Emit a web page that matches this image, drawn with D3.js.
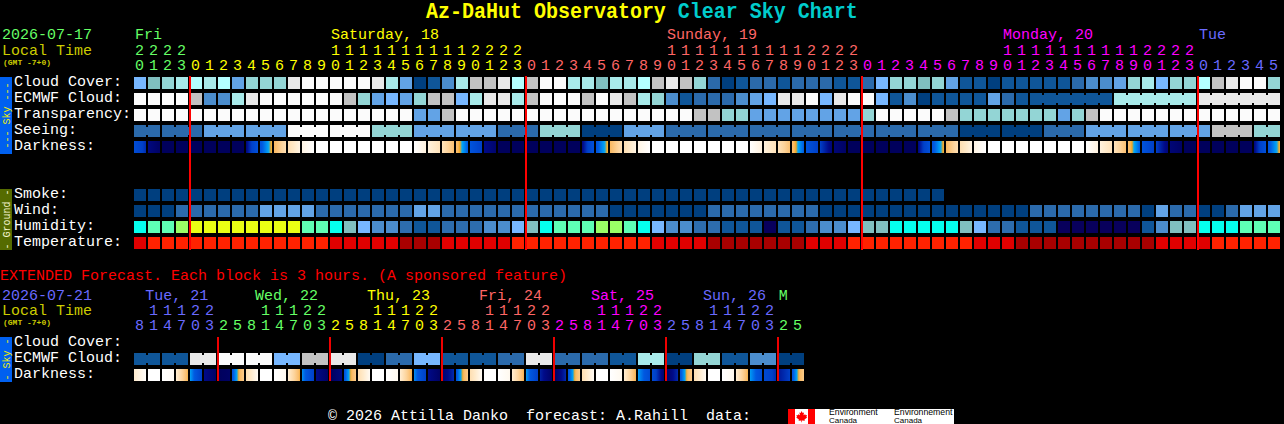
<!DOCTYPE html>
<html><head><meta charset="utf-8">
<script src="https://cdn.jsdelivr.net/npm/d3@7/dist/d3.min.js"></script>
<style>html,body{margin:0;padding:0;background:#000;overflow:hidden}svg{display:block}text{font-family:"Liberation Mono",monospace;white-space:pre}</style>
</head><body><svg id="c" width="1284" height="424"></svg>
<script>
// ---- values (sky quality level per hour) ----
const cloudCover=[5,6,7,8,9,8,9,4,7,7,7,11,12,12,12,12,12,11,8,4,0,1,3,8,10,10,11,9,10,12,12,8,8,6,8,8,9,10,11,10,7,2,0,1,2,2,1,2,2,2,1,1,2,5,7,7,6,7,4,1,1,0,1,1,1,1,1,2,3,3,4,7,8,5,7,7,9,10,11,12,12,7];
const ecmwfCloud=[12,12,12,12,10,3,3,8,11,12,12,12,12,12,12,10,7,4,5,4,7,10,10,5,8,11,11,8,10,12,12,12,10,12,11,10,8,7,3,1,2,2,2,3,4,5,11,11,12,5,11,12,12,5,1,3,0,1,1,1,1,4,2,1,1,1,1,1,1,1,8,8,8,8,8,8,11,11,11,11,11,11];
const ecmwfBlocks=[0,1,2,3,4,5,6,7,8,9,10,11,12,13,14,15,16,17,18,19,20,21,22,23,24,25,26,27,28,29,30,31,32,33,34,35,36,37,38,39,40,41,42,43,44,45,46,47,48,49,50,51,52,53,54,55,56,57,58,59,60,61,62,63,64,70,76];
const transparency=[12,12,12,12,12,12,12,12,12,12,12,12,12,12,12,12,12,12,12,12,4,4,10,12,12,12,12,12,12,12,12,12,12,12,12,12,12,12,12,12,10,10,7,7,4,4,4,4,4,4,4,4,7,12,12,12,12,12,10,7,7,7,7,7,7,7,4,7,10,12,12,12,12,12,12,12,12,12,12,12,12,12];
const seeing=[2,2,2,2,2,4,4,4,4,4,4,12,12,12,12,12,12,7,7,7,4,4,4,4,4,4,2,2,2,7,7,7,0,0,0,4,4,4,2,2,2,2,2,2,2,2,2,2,2,2,2,2,2,2,2,2,2,2,2,0,0,0,0,0,0,2,2,2,4,4,4,4,4,4,4,4,4,10,10,10,7,7];
const seeingBlocks=[0,2,5,8,11,14,17,20,23,26,29,32,35,38,41,44,47,50,53,56,59,62,65,68,71,74,77,80];
const darkStart=[4.5,5.6,6,6,6,6,6,6,5.6,4.2,3,1.5,.5,0,0,0,0,0,0,0,0,.6,1.3,2.8,4.2,5.5,6,6,6,6,6,6,5.6,4.2,3,1.5,.5,0,0,0,0,0,0,0,0,.6,1.3,2.8,4.2,5,5.7,6,6,6,6,6,5.6,4.2,3,1.5,.5,0,0,0,0,0,0,0,0,.6,1.3,2.8,4.2,5,5.7,6,6,6,6,6,5.6,4.2];
const darkEnd=[5.2,5.9,6,6,6,6,6,6,4.3,3.1,1.5,.5,0,0,0,0,0,0,0,0,.6,1.3,2.7,4,5,5.8,6,6,6,6,6,6,4.3,3.1,1.5,.5,0,0,0,0,0,0,0,0,.6,1.3,2.7,4,5,5.7,5.9,6,6,6,6,6,4.3,3.1,1.5,.5,0,0,0,0,0,0,0,0,.6,1.3,2.7,4,5,5.7,5.9,6,6,6,6,6,4.3,3.1];
const smoke=[0,0,0,0,0,0,0,0,0,0,0,0,0,0,0,0,0,0,0,0,0,0,0,0,0,0,0,0,0,0,0,0,0,0,0,0,0,0,0,0,0,0,0,0,0,0,0,0,0,0,0,0,0,0,0,0,0,0];
const wind=[0,0,0,2,2,2,2,2,2,4,4,4,4,2,2,2,2,2,2,2,4,4,2,2,2,2,2,2,2,2,2,2,2,2,0,0,0,0,0,0,0,2,2,2,2,2,2,2,2,0,0,0,0,0,0,0,0,0,0,0,0,0,0,0,2,2,2,2,2,2,2,2,0,4,2,2,0,0,2,4,4,4];
const humidity=[6,7,7,8,9,9,9,9,9,9,9,9,7,7,6,5,4,3,3,2,1,1,2,2,2,3,3,4,5,6,7,7,7,8,8,7,6,4,3,3,2,2,1,1,1,0,1,1,2,3,3,4,5,5,6,6,6,6,6,5,4,2,2,1,1,1,0,0,0,0,0,0,1,3,5,5,6,6,6,7,7,7];
const temperature=[1,2,2,2,2,2,2,2,2,2,2,2,2,2,1,1,1,1,1,0,0,0,1,1,1,1,1,2,2,2,2,2,2,2,2,2,2,1,1,1,1,0,0,0,0,0,0,0,1,1,1,2,2,2,2,2,2,2,2,2,1,1,1,0,0,0,0,0,0,0,0,0,0,1,1,1,1,2,2,2,2,2];
const hours=[20,21,22,23,0,1,2,3,4,5,6,7,8,9,10,11,12,13,14,15,16,17,18,19,20,21,22,23,0,1,2,3,4,5,6,7,8,9,10,11,12,13,14,15,16,17,18,19,20,21,22,23,0,1,2,3,4,5,6,7,8,9,10,11,12,13,14,15,16,17,18,19,20,21,22,23,0,1,2,3,4,5];
const hourDay=[0,0,0,0,1,1,1,1,1,1,1,1,1,1,1,1,1,1,1,1,1,1,1,1,1,1,1,1,2,2,2,2,2,2,2,2,2,2,2,2,2,2,2,2,2,2,2,2,2,2,2,2,3,3,3,3,3,3,3,3,3,3,3,3,3,3,3,3,3,3,3,3,3,3,3,3,4,4,4,4,4,4];
const dayNames=["Fri","Saturday, 18","Sunday, 19","Monday, 20","Tue"];
const dayLabelCell=[0,14,38,62,76];
// ---- extended forecast ----
const extEcmwf=[1,1,11,12,12,5,10,11,0,2,5,1,1,2,11,2,2,1,8,0,7,1,3,0];
const extDarkStart=[.9,0,0,.8,3.45,5.5,6,4.2,1.5,0,0,.8,3.6,5.5,6,4.2,1.5,0,0,.8,3.6,5.5,5.8,4.2,1.5,0,0,.8,3.5,5.3,6,4.2,1.5,0,0,.8,3.5,4.6,5.9,4.2,1.5,0,0,.8,3.5,4.6,5.4,4.2];
const extDarkEnd=[.1,0,.2,3.1,5,5.9,5.9,2.3,.2,0,.3,3.1,5,5.9,5.6,2.3,.2,0,.3,3.1,5,5.9,5.2,2.3,.2,0,.3,3.1,5,5.9,5.2,2.3,.2,0,.3,3.1,4.5,5.8,5.2,2.3,.2,0,.3,3.1,4.5,5.2,5,2.3];
const extHours=[8,11,14,17,20,23,2,5,8,11,14,17,20,23,2,5,8,11,14,17,20,23,2,5,8,11,14,17,20,23,2,5,8,11,14,17,20,23,2,5,8,11,14,17,20,23,2,5];
const extHourDay=[0,0,0,0,0,0,1,1,1,1,1,1,1,1,2,2,2,2,2,2,2,2,3,3,3,3,3,3,3,3,4,4,4,4,4,4,4,4,5,5,5,5,5,5,5,5,6,6];
const extDayNames=["Tue, 21","Wed, 22","Thu, 23","Fri, 24","Sat, 25","Sun, 26","M"];
const extDayLabelCell=[0.8,8.65,16.65,24.65,32.65,40.65,46.05];
const midnightCells=[4,28,52,76];
const extMidnightCells=[6,14,22,30,38,46];

// ---- scales ----
const skyPalette=["#003f7f","#0f5699","#2b6aab","#4b8dcd","#62a3e6","#77b7ff","#80bfbf","#93d5d5","#a8eaea","#b4ffff","#c2c2c2","#e9e9e9","#fbfbfb"];
const humPalette=["#08005c","#0f5699","#2d6dae","#4b8dcd","#77b7ff","#80bfbf","#05ffee","#5effb5","#9aff66","#eaff14"];
const tempPalette=["#a80000","#e00000","#ff2200"];
const sky=d3.scaleOrdinal(d3.range(13),skyPalette);
const hum=d3.scaleOrdinal(d3.range(10),humPalette);
const tmp=d3.scaleOrdinal(d3.range(3),tempPalette);
const dark=d3.scaleLinear()
 .domain([0,1,2,3,3.2,3.4,4,5,5.5,6])
 .range(["#ffffff","#ffe9c8","#fdd49c","#f9b860","#f0a820","#00a8f8","#0058e0","#0040c8","#000a88","#00005c"]);
const x=d3.scaleLinear().domain([0,82]).range([134,1282]);
const rowY=d3.scaleLinear().domain([0,1]).range([77,93]);
const CW=12,CH=12,STEP=14;
const GMT="(GMT -7+0)";
const dayCol=["#66ff66","#ffff00","#ff6666","#ff00ff","#6a6aff"];
const extDayCol=["#6a6aff","#66ff66","#ffff00","#ff6666","#ff00ff","#6a6aff","#66ff66"];

const svg=d3.select("#c");
svg.append("rect").attr("width",1284).attr("height",424).attr("fill","#000");
const defs=svg.append("defs");
const g=svg.append("g");

function txt(s,px,py,fill,size=15,extra){
  const t=g.append("text").attr("x",px).attr("y",py).attr("fill",fill).attr("font-size",size).text(s);
  if(extra)extra(t);return t;
}
function row(values,r,color,blocks){
  const y0=rowY(r);
  const set=blocks?new Set(blocks):null;
  const G=g.append("g").attr("shape-rendering","crispEdges");
  G.selectAll("rect.c").data(values).join("rect").attr("class","c")
   .attr("x",(d,i)=>x(i)).attr("y",y0).attr("width",CW).attr("height",CH).attr("fill",d=>color(d));
  if(set){
    const joins=values.map((d,i)=>i).filter(i=>i<values.length-1&&!set.has(i+1));
    G.selectAll("rect.j").data(joins).join("rect").attr("class","j")
     .attr("x",i=>x(i)+CW).attr("y",y0+2).attr("width",STEP-CW).attr("height",CH-4).attr("fill",i=>color(values[i]));
  }
}
let gid=0;
function darkRow(starts,ends,r){
  const y0=rowY(r);
  const G=g.append("g").attr("shape-rendering","crispEdges");
  starts.forEach((s,i)=>{
    const id="d"+(gid++);
    const lg=defs.append("linearGradient").attr("id",id);
    d3.range(0,1.0001,1/12).forEach(t=>lg.append("stop").attr("offset",t).attr("stop-color",dark(s+(ends[i]-s)*t)));
    G.append("rect").attr("x",x(i)).attr("y",y0).attr("width",CW).attr("height",CH).attr("fill",`url(#${id})`);
  });
}
function hourTicks(hs,days,cols,yTens,yUnits){
  hs.forEach((h,i)=>{
    const c=cols[days[i]];
    const cx=x(i)+1;
    if(h>=10) txt(Math.floor(h/10),cx,yTens,c);
    txt(h%10,cx,yUnits,c);
  });
}
function sideBar(y0,h,col,label,txtCol){
  g.append("rect").attr("x",0).attr("y",y0).attr("width",12).attr("height",h).attr("fill",col).attr("shape-rendering","crispEdges");
  g.append("text").attr("transform",`translate(10,${y0+h/2}) rotate(-90)`).attr("text-anchor","middle")
   .attr("fill",txtCol).attr("font-size",10).text(label);
}

// ---- title ----
const title=g.append("text").attr("transform","translate(426,18) scale(1,1.12)").attr("font-size",20).attr("font-weight","bold");
title.append("tspan").attr("fill","#ffff00").text("Az-DaHut Observatory ");
title.append("tspan").attr("fill","#00cccc").text("Clear Sky Chart");

// ---- header ----
txt("2026-07-17",2,39,"#66ff66");
txt("Local Time",2,55,"#cccc00");
txt(GMT,3,65,"#cccc00",8,t=>t.attr("font-weight","bold"));
dayNames.forEach((n,k)=>txt(n,x(dayLabelCell[k])+1,39,dayCol[k]));
hourTicks(hours,hourDay,dayCol,55,70);

// ---- sky ----
[["Cloud Cover:",0],["ECMWF Cloud:",1],["Transparency:",2],["Seeing:",3],["Darkness:",4],
 ["Smoke:",7],["Wind:",8],["Humidity:",9],["Temperature:",10]].forEach(([s,r])=>txt(s,14,rowY(r)+9,"#fff"));
sideBar(77,77,"#0060f0"," --- Sky --- ","#f0f000");
sideBar(189,61,"#556b00","- Ground -","#f5f5d0");
row(cloudCover,0,sky);
row(ecmwfCloud,1,sky,ecmwfBlocks);
row(transparency,2,sky);
row(seeing,3,sky,seeingBlocks);
darkRow(darkStart,darkEnd,4);
row(smoke,7,sky);
row(wind,8,sky);
row(humidity,9,hum);
row(temperature,10,tmp);
g.append("g").selectAll("rect").data(midnightCells).join("rect")
 .attr("x",i=>x(i)-1).attr("y",76).attr("width",2).attr("height",174).attr("fill","#f00").attr("shape-rendering","crispEdges");

// ---- extended ----
txt("EXTENDED Forecast. Each block is 3 hours. (A sponsored feature)",0,280,"#f00");
txt("2026-07-21",2,300,"#6a6aff");
txt("Local Time",2,315,"#cccc00");
txt(GMT,3,325,"#cccc00",8,t=>t.attr("font-weight","bold"));
extDayNames.forEach((n,k)=>txt(n,x(extDayLabelCell[k]),300,extDayCol[k]));
hourTicks(extHours,extHourDay,extDayCol,315,330);
const extRow=d3.scaleLinear().domain([0,1]).range([337,353]);
[["Cloud Cover:",0],["ECMWF Cloud:",1],["Darkness:",2]].forEach(([s,r])=>txt(s,14,extRow(r)+9,"#fff"));
sideBar(337,45,"#0060f0","- Sky -","#f0f000");
const extCells=extEcmwf.flatMap(v=>[v,v]);
const extBlocks=extEcmwf.map((v,k)=>k*2);
const rowSave=rowY.range();
rowY.range([337,353]);
row(extCells,1,sky,extBlocks);
darkRow(extDarkStart,extDarkEnd,2);
rowY.range(rowSave);
g.append("g").selectAll("rect").data(extMidnightCells).join("rect")
 .attr("x",i=>x(i)-1).attr("y",337).attr("width",2).attr("height",44).attr("fill","#f00000").attr("shape-rendering","crispEdges");

// ---- footer ----
txt("© 2026 Attilla Danko  forecast: A.Rahill  data:",328,420,"#fff");
const logo=svg.append("g");
logo.append("rect").attr("x",788).attr("y",409).attr("width",166).attr("height",15).attr("fill","#fff");
logo.append("rect").attr("x",788).attr("y",409).attr("width",7).attr("height",15).attr("fill","#f00");
logo.append("rect").attr("x",808).attr("y",409).attr("width",7).attr("height",15).attr("fill","#f00");
logo.append("path").attr("fill","#f00").attr("d","M801.5 411l1.2 2 1.3-.6-.5 2.8 1.7-1 .4 1 1.4-.2-.6 2 .8.5-2.7 2.1.3 1.1-2.8-.3v1.8h-.6v-1.8l-2.8.3.3-1.1-2.7-2.1.8-.5-.6-2 1.4.2.4-1 1.7 1-.5-2.8 1.3.6z");
[["Environment",829,415],["Canada",829,423],["Environnement",894,415],["Canada",894,423]].forEach(([s,a,b])=>
 logo.append("text").attr("x",a).attr("y",b).attr("fill","#000").attr("font-size",s=="Canada"?8:8.7).style("font-family","Liberation Sans").text(s));
</script></body></html>
